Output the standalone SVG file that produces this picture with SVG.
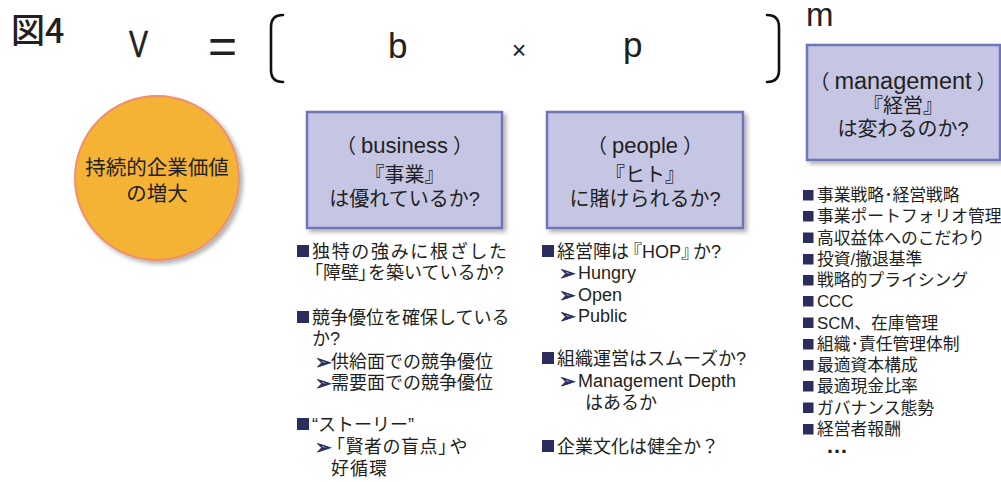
<svg xmlns="http://www.w3.org/2000/svg" width="1001" height="482" viewBox="0 0 1001 482">
<defs>
<filter id="sh" x="-10%" y="-10%" width="130%" height="130%">
<feDropShadow dx="3" dy="3" stdDeviation="2" flood-color="#000" flood-opacity="0.3"/>
</filter>
<style>
text{font-family:'Liberation Sans','Noto Sans CJK JP',sans-serif;fill:#231F20}
.jp{font-family:'Noto Sans CJK JP','Liberation Sans',sans-serif}
.box{fill:#C5C6E4;stroke:#6E74B8;stroke-width:2.5;filter:url(#sh)}
.bt{font-size:20px;text-anchor:middle}
.li{font-size:18px}
.ml{font-size:16.8px}
.bul{fill:#2B2D5E}
.arr{font-family:'DejaVu Sans',sans-serif;fill:#2B2D5E;stroke:#2B2D5E;stroke-width:0.7;font-size:20px}
.br{fill:none;stroke:#111;stroke-width:2.6;stroke-linecap:round}
</style>
</defs>
<rect width="1001" height="482" fill="#fff"/>

<g id="formula">
<text class="jp" x="11" y="43" font-size="34" font-weight="500">図4</text>
<text x="129" y="57" font-size="37" textLength="19" lengthAdjust="spacingAndGlyphs" stroke="#231F20" stroke-width="0.6">V</text>
<text x="208" y="62.5" font-size="50">=</text>
<path class="br" d="M283,15 Q271,15 271,27 L271,70 Q271,82 283,82"/>
<text x="388" y="58" font-size="35">b</text>
<text x="519" y="59" font-size="25" text-anchor="middle">×</text>
<text x="623" y="57" font-size="35">p</text>
<path class="br" d="M767,15 Q779,15 779,27 L779,70 Q779,82 767,82"/>
<text x="806" y="26" font-size="33">m</text>
</g>

<g id="value">
<circle cx="157" cy="178" r="82" fill="#F5B335" stroke="#EE9070" stroke-width="2" filter="url(#sh)"/>
<text class="jp" x="157" y="175" font-size="20.5" text-anchor="middle">持続的企業価値</text>
<text class="jp" x="157" y="201" font-size="20.5" text-anchor="middle">の増大</text>
</g>

<g id="business">
<rect class="box" x="307" y="112" width="195" height="116"/>
<text class="bt" x="404.5" y="153"><tspan class="jp">（</tspan><tspan dx="5" font-size="22">business</tspan><tspan class="jp" dx="5">）</tspan></text>
<text class="bt" x="404.5" y="182">『事業』</text>
<text class="bt" x="404.5" y="206">は優れているか?</text>
</g>

<g id="people">
<rect class="box" x="547" y="112" width="196" height="116"/>
<text class="bt" x="645" y="153"><tspan class="jp">（</tspan><tspan dx="5" font-size="22">people</tspan><tspan class="jp" dx="5">）</tspan></text>
<text class="bt" x="645" y="182">『ヒト』</text>
<text class="bt" x="645" y="206">に賭けられるか?</text>
</g>

<g id="management">
<rect class="box" x="807" y="45" width="193" height="115"/>
<text class="bt" x="903" y="89" font-size="21"><tspan class="jp">（</tspan><tspan dx="5" font-size="23.5">management</tspan><tspan class="jp" dx="5">）</tspan></text>
<text class="bt" x="903" y="113" font-size="22">『経営』</text>
<text class="bt" x="903" y="136" font-size="22">は変わるのか?</text>
</g>

<g id="business-list">
<rect class="bul" x="297" y="245" width="12" height="12"/>
<text class="li" x="312" y="258" textLength="195" lengthAdjust="spacing">独特の強みに根ざした</text>
<text class="li" x="305" y="279">「障壁<tspan dx="-1">」</tspan><tspan dx="-8">を築いているか?</tspan></text>
<rect class="bul" x="297" y="311" width="12" height="12"/>
<text class="li" x="312" y="324">競争優位を確保している</text>
<text class="li" x="312" y="345">か?</text>
<text class="arr" x="315" y="369">➢</text>
<text class="li" x="331" y="368">供給面での競争優位</text>
<text class="arr" x="315" y="390">➢</text>
<text class="li" x="331" y="389">需要面での競争優位</text>
<rect class="bul" x="297" y="418" width="12" height="12"/>
<text class="li" x="312" y="431">“ストーリー”</text>
<text class="arr" x="315" y="454">➢</text>
<text class="li" x="327" y="453" letter-spacing="0.5">「賢者の盲点<tspan>」</tspan><tspan dx="-7">や</tspan></text>
<text class="li" x="331" y="475" letter-spacing="1">好循環</text>
</g>

<g id="people-list">
<rect class="bul" x="542" y="245" width="12" height="12"/>
<text class="li" x="557" y="258">経営陣は<tspan dx="-5">『</tspan>HOP<tspan>』</tspan><tspan dx="-6">か?</tspan></text>
<text class="arr" x="559" y="280">➢</text>
<text class="li" x="578" y="279">Hungry</text>
<text class="arr" x="559" y="302">➢</text>
<text class="li" x="578" y="301">Open</text>
<text class="arr" x="559" y="323">➢</text>
<text class="li" x="578" y="322">Public</text>
<rect class="bul" x="542" y="352" width="12" height="12"/>
<text class="li" x="557" y="365">組織運営はスムーズか?</text>
<text class="arr" x="559" y="388">➢</text>
<text class="li" x="578" y="387">Management Depth</text>
<text class="li" x="585" y="409">はあるか</text>
<rect class="bul" x="542" y="440" width="12" height="12"/>
<text class="li" x="557" y="453">企業文化は健全か？</text>
</g>

<g id="management-list">
<rect class="bul" x="803" y="190" width="10.5" height="10.5"/>
<text class="ml" x="817" y="201">事業戦略･経営戦略</text>
<rect class="bul" x="803" y="211" width="10.5" height="10.5"/>
<text class="ml" x="817" y="222">事業ポートフォリオ管理</text>
<rect class="bul" x="803" y="232.5" width="10.5" height="10.5"/>
<text class="ml" x="817" y="243.5">高収益体へのこだわり</text>
<rect class="bul" x="803" y="254" width="10.5" height="10.5"/>
<text class="ml" x="817" y="265">投資/撤退基準</text>
<rect class="bul" x="803" y="275" width="10.5" height="10.5"/>
<text class="ml" x="817" y="286">戦略的プライシング</text>
<rect class="bul" x="803" y="296" width="10.5" height="10.5"/>
<text class="ml" x="817" y="307">CCC</text>
<rect class="bul" x="803" y="317.5" width="10.5" height="10.5"/>
<text class="ml" x="817" y="328.5">SCM、在庫管理</text>
<rect class="bul" x="803" y="339" width="10.5" height="10.5"/>
<text class="ml" x="817" y="350">組織･責任管理体制</text>
<rect class="bul" x="803" y="360" width="10.5" height="10.5"/>
<text class="ml" x="817" y="371">最適資本構成</text>
<rect class="bul" x="803" y="381" width="10.5" height="10.5"/>
<text class="ml" x="817" y="392">最適現金比率</text>
<rect class="bul" x="803" y="402.5" width="10.5" height="10.5"/>
<text class="ml" x="817" y="413.5">ガバナンス態勢</text>
<rect class="bul" x="803" y="424" width="10.5" height="10.5"/>
<text class="ml" x="817" y="435">経営者報酬</text>
<text x="826" y="453" font-size="22" font-weight="bold">…</text>
</g>
</svg>
